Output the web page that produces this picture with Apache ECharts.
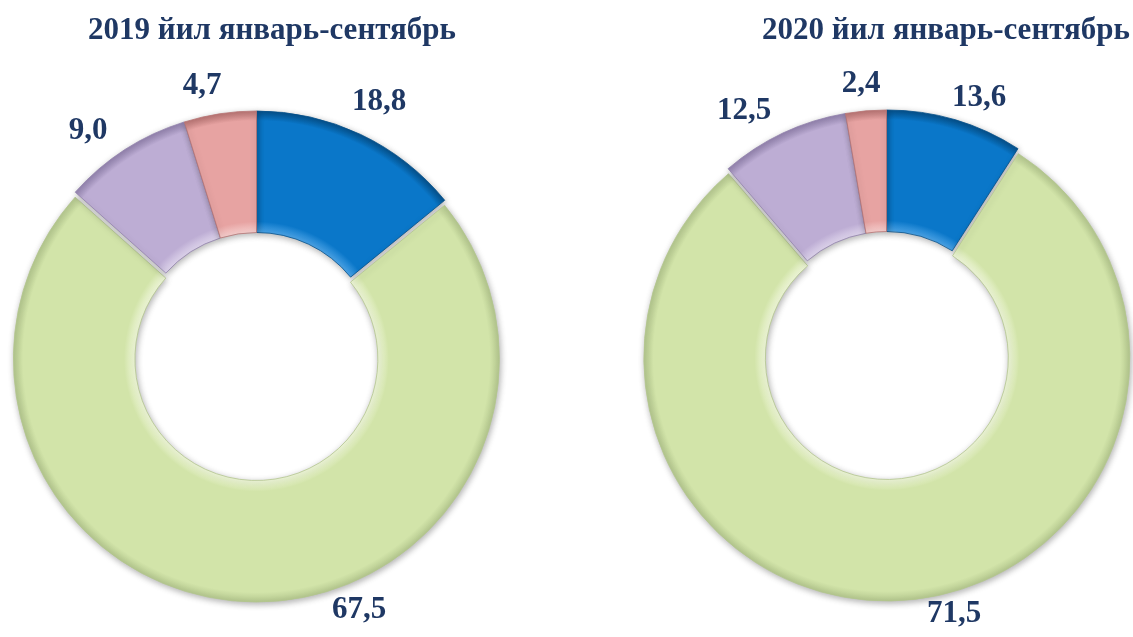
<!DOCTYPE html>
<html><head><meta charset="utf-8">
<script src="https://cdn.jsdelivr.net/npm/echarts@6/dist/echarts.min.js"></script>
<style>html,body{margin:0;padding:0;background:#fff}#c{width:1133px;height:637px}</style>
</head><body><div id="c"></div>
<script>
// Titles of the two doughnuts
const chartTitles = ['2019 йил январь-сентябрь', '2020 йил январь-сентябрь'];
// Slice order, clockwise from 12 o'clock: blue, green, purple, pink
const categories = ['Сегмент 1', 'Сегмент 2', 'Сегмент 3', 'Сегмент 4'];
// Slice sizes as drawn in the picture (angular shares, %)
const shares2019 = [14.1, 72.5, 8.6, 4.8];
const shares2020 = [9.1, 79.6, 8.6, 2.7];
// Values printed as data labels
const labels2019 = [18.8, 67.5, 9.0, 4.7];
const labels2020 = [13.6, 71.5, 12.5, 2.4];

// ---- styling / layout (not data) ----
const base  = ['#0A77C9', '#D2E4A9', '#BDADD4', '#E7A3A2'];
const light = ['#4BA3E6', '#EEF6D8', '#DDD3EB', '#F5CDCC'];
const dark  = ['#05508A', '#B4C78E', '#9282AD', '#B87473'];
const navy = '#1F3864';
const R_OUT = 243, R_IN = 121.5;
const centers = [[256.5, 354], [886.5, 353]];
// label anchor offsets from each doughnut's centre (manually placed labels)
const labelOffsets = [
  [[122.5, -252], [102.5, 256], [-168.5, -223], [-54.5, -268]],
  [[92.5, -255], [67.5, 261], [-142.5, -242], [-25.5, -269]]
];
const fmt = v => v.toFixed(1).replace('.', ',');

function ringGradient(i, cx, cy) {
  return {
    type: 'radial', x: cx, y: cy, r: R_OUT, global: true,
    colorStops: [
      { offset: 0.5, color: light[i] },
      { offset: 0.545, color: base[i] },
      { offset: 0.96, color: base[i] },
      { offset: 1, color: dark[i] }
    ]
  };
}

function ringSeries(sIdx, shares) {
  const [cx, cy] = centers[sIdx];
  return {
    type: 'pie',
    center: [cx, cy],
    radius: [R_IN, R_OUT],
    startAngle: 90,
    clockwise: true,
    selectedMode: 'multiple',
    selectedOffset: 5,
    animation: false,
    silent: true,
    label: { show: false },
    labelLine: { show: false },
    emphasis: { disabled: true },
    itemStyle: {
      borderWidth: 0.8,
      shadowBlur: 6, shadowColor: 'rgba(0,0,0,0.3)', shadowOffsetX: 1, shadowOffsetY: 2
    },
    data: shares.map((v, i) => ({
      name: categories[i], value: v, selected: i === 1,
      itemStyle: { color: ringGradient(i, cx, cy), borderColor: dark[i] }
    }))
  };
}

// transparent copy of a ring that only carries the data labels
function labelSeries(sIdx, shares, labelVals) {
  const [cx, cy] = centers[sIdx];
  return {
    type: 'pie',
    center: [cx, cy],
    radius: [R_IN, R_OUT],
    startAngle: 90,
    clockwise: true,
    selectedMode: false,
    avoidLabelOverlap: false,
    animation: false,
    silent: true,
    z: 5,
    label: {
      show: true, position: 'outside',
      formatter: p => fmt(labelVals[p.dataIndex]),
      fontFamily: 'Liberation Serif', fontWeight: 'bold', fontSize: 31, color: navy
    },
    labelLine: { show: false, length: 0, length2: 0 },
    labelLayout: p => {
      const o = labelOffsets[sIdx][p.dataIndex];
      return { x: cx + o[0], y: cy + o[1], align: 'center', verticalAlign: 'middle' };
    },
    emphasis: { disabled: true },
    itemStyle: { color: 'rgba(0,0,0,0)', borderWidth: 0 },
    data: shares.map((v, i) => ({ name: categories[i], value: v }))
  };
}

const chart = echarts.init(document.getElementById('c'));
const titleStyle = { fontFamily: 'Liberation Serif', fontWeight: 'bold', fontSize: 31, color: navy };
chart.setOption({
  backgroundColor: '#fff',
  title: [
    { text: chartTitles[0], left: 267, top: 10, textAlign: 'center', textStyle: titleStyle },
    { text: chartTitles[1], left: 941, top: 10, textAlign: 'center', textStyle: titleStyle }
  ],
  series: [
    ringSeries(0, shares2019),
    ringSeries(1, shares2020),
    labelSeries(0, shares2019, labels2019),
    labelSeries(1, shares2020, labels2020)
  ]
});
</script></body></html>
